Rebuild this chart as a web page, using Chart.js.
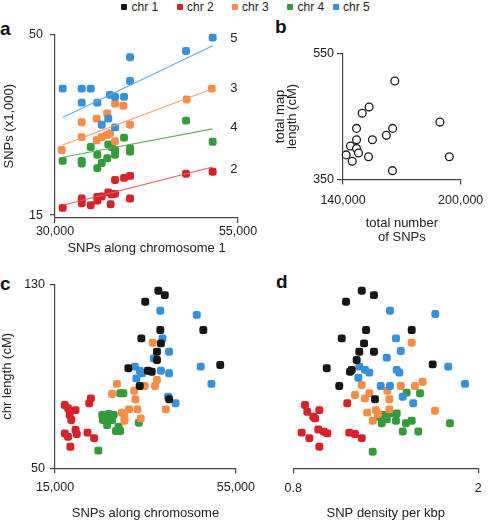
<!DOCTYPE html>
<html><head><meta charset="utf-8">
<script src="https://cdn.jsdelivr.net/npm/chart.js@4/dist/chart.umd.min.js"></script>
<style>
html,body{margin:0;padding:0;background:#fff;overflow:hidden;}
body{width:492px;height:520px;position:relative;font-family:"Liberation Sans",Arial,sans-serif;color:#222;}
canvas{position:absolute;}
.lbl{position:absolute;font-weight:bold;font-size:19px;line-height:19px;color:#111;}
.leg{position:absolute;top:0;font-size:12px;line-height:14px;color:#222;white-space:nowrap;}
.sw{position:absolute;width:6px;height:6px;border-radius:1px;top:4px;}
</style></head><body>
<script>
// ---------- legend ----------
const chrNames = ['chr 1','chr 2','chr 3','chr 4','chr 5'];
const chrColors = ['#161616','#d62229','#f58c48','#349b3c','#3791d8'];
const lineColors = ['#161616','#e05a60','#f6a06c','#5fae5f','#62aae2'];

// ---------- panel a: SNPs (x1,000) vs SNPs along chromosome 1 ----------
const aXTicks = [30000, 55000], aXLabels = ['30,000','55,000'];
const aYTicks = [15, 50], aYLabels = ['15','50'];
const aChr2 = [[31050,16.4],[33650,18.2],[33650,17.3],[34880,16.9],[35780,17.8],[35780,18.5],[36380,18.6],[37280,19.4],[37740,19.0],[38200,19.1],[37600,17.1],[40250,18.2],[38200,21.8],[39430,22.2],[40250,22.6],[47900,23.0],[51540,23.4]];
const aChr3 = [[30920,27.6],[33650,30.1],[35700,29.5],[36380,30.1],[37060,30.5],[37510,30.8],[38200,29.3],[33650,33.0],[35700,33.7],[37140,34.7],[38200,36.6],[39330,36.2],[40250,32.5],[47990,37.4],[51410,39.5]];
const aChr4 = [[51540,29.2],[47900,33.3],[31050,25.5],[33650,25.5],[33650,25.0],[34880,28.2],[35780,26.7],[35780,24.1],[36380,25.1],[37140,26.0],[37280,28.7],[37740,28.2],[38200,27.6],[38200,26.7],[39430,30.0],[40250,27.9],[40250,27.3]];
const aChr5 = [[31050,39.5],[33650,39.5],[34880,39.5],[40250,45.6],[40250,41.0],[37510,38.3],[38200,37.9],[39430,37.9],[33650,36.8],[35780,36.8],[37280,33.7],[36380,32.5],[38200,32.0],[47900,46.8],[51540,49.4]];
// fitted lines, end points
const aLineX = [31050, 51540];
const aLine2 = [16.9, 24.3];
const aLine3 = [28.6, 39.5];
const aLine4 = [26.2, 31.7];
const aLine5 = [33.9, 47.8];
const aLabelText = ['5','3','4','2'];
const aLabelY = [49.2, 39.6, 32.0, 23.9];
const aLabelX = 53950;

// ---------- panel b: total map length vs total number of SNPs ----------
const bXTicks = [140000, 200000], bXLabels = ['140,000','200,000'];
const bYTicks = [350, 550], bYLabels = ['350','550'];
const bSnps = [166400,153300,149800,146900,165300,162100,146900,155000,143800,146900,147900,141600,144700,153000,165200,189400,194200];
const bLen  = [506,465,455,431,431,420,413,413,403,399,392,389,379,386,364,441,386];

// ---------- panel c: chr length vs SNPs along chromosome ----------
const cXTicks = [15000, 55000], cXLabels = ['15,000','55,000'];
const cYTicks = [50, 130], cYLabels = ['50','130'];
const cChr1 = [[37850,127.2],[39280,125.3],[34960,122.4],[38290,110.1],[47800,110.1],[34090,106.5],[38420,104.3],[37550,100.7],[37550,97.1],[31220,93.5],[35540,92.4],[36400,92.0],[51540,94.9],[33740,85.8],[40230,80.0]];
const cChr2 = [[17160,77.5],[17880,76.1],[19540,75.3],[18240,73.2],[18610,71.0],[22940,80.4],[22570,78.3],[17160,65.2],[17880,63.7],[19540,66.7],[19820,64.9],[18400,59.4],[22200,65.5],[23650,63.1]];
const cChr3 = [[36620,104.6],[37550,88.4],[37120,85.8],[34830,85.8],[28690,86.7],[27610,82.3],[32510,83.7],[32790,80.0],[31370,75.6],[29770,74.2],[30350,72.4],[33230,75.6],[33960,71.7],[30350,70.7],[39500,75.6]];
const cChr4 = [[29420,82.6],[30130,82.6],[26890,73.6],[27970,73.2],[25590,71.0],[26180,71.7],[26530,68.8],[28470,66.2],[29420,66.2],[33530,69.8],[24580,57.7],[27610,71.0],[25450,73.2],[29050,68.1]];
const cChr5 = [[38290,118.5],[46350,116.7],[38780,106.5],[40230,100.7],[36840,97.8],[32660,94.2],[33740,92.4],[34240,91.3],[38420,92.4],[40230,91.3],[33010,89.1],[47220,94.2],[49590,86.7],[40010,81.1],[41660,78.3]];

// ---------- panel d: chr length vs SNP density per kbp ----------
const dXTicks = [0.8, 2], dXLabels = ['0.8','2'];
const dChr1 = [[1.244,127.2],[1.323,125.3],[1.142,122.4],[1.272,110.1],[1.568,110.1],[1.114,106.5],[1.259,104.3],[1.228,100.7],[1.323,100.7],[1.211,97.1],[1.017,93.5],[1.168,92.0],[1.179,92.8],[1.704,95.2],[1.098,85.8],[1.330,80.0]];
const dChr2 = [[0.876,77.5],[0.891,74.6],[0.930,72.4],[0.941,71.7],[0.969,75.3],[0.962,66.9],[0.999,65.9],[1.021,65.2],[0.854,65.5],[0.904,63.1],[0.969,59.4],[1.163,65.5],[1.200,64.9],[1.244,63.1],[1.150,78.3]];
const dChr3 = [[1.568,104.6],[1.244,86.2],[1.200,81.9],[1.293,82.6],[1.265,80.4],[1.410,83.7],[1.423,80.0],[1.497,85.8],[1.589,85.8],[1.639,87.6],[1.280,74.2],[1.336,75.3],[1.351,73.6],[1.423,75.6],[1.315,70.7],[1.719,75.0]];
const dChr4 = [[1.535,82.9],[1.622,82.6],[1.351,72.4],[1.380,73.2],[1.406,71.3],[1.373,69.6],[1.427,73.9],[1.471,73.9],[1.466,70.7],[1.531,69.6],[1.568,70.7],[1.510,66.0],[1.611,66.0],[1.816,69.6],[1.315,57.2]];
const dChr5 = [[1.427,118.5],[1.721,117.1],[1.466,106.5],[1.497,101.0],[1.406,98.1],[1.228,94.2],[1.265,92.8],[1.293,91.6],[1.471,92.8],[1.488,91.6],[1.222,89.4],[1.805,94.2],[1.914,86.7],[1.367,85.8],[1.427,85.8],[1.510,81.1],[1.578,78.3]];

// ---------- helpers ----------
Chart.defaults.font.family = '"Liberation Sans", Arial, sans-serif';
Chart.defaults.color = '#222';
Chart.defaults.animation = false;

function addDiv(cls, text, left, top){
  const d = document.createElement('div');
  d.className = cls; d.textContent = text;
  d.style.left = left + 'px'; d.style.top = top + 'px';
  document.body.appendChild(d); return d;
}
// legend
const legSwatchLeft = [121, 176.5, 231.5, 287, 332.5];
chrNames.forEach((n,i)=>{
  const s = document.createElement('div'); s.className='sw';
  s.style.left = legSwatchLeft[i]+'px'; s.style.background = chrColors[i];
  document.body.appendChild(s);
  addDiv('leg', n, legSwatchLeft[i]+10.5, 0);
});
addDiv('lbl','a',0,19); addDiv('lbl','b',275,17); addDiv('lbl','c',0,274); addDiv('lbl','d',276,272);

function makeCanvas(left, top, w, h){
  const c = document.createElement('canvas');
  c.width = w; c.height = h;
  c.style.left = left+'px'; c.style.top = top+'px';
  c.style.width = w+'px'; c.style.height = h+'px';
  document.body.appendChild(c);
  return c.getContext('2d');
}
function axis(o){
  return {
    type:'linear', position:o.pos, min:o.min, max:o.max, display: o.display !== false,
    grid:{display:true, drawOnChartArea:false, drawTicks:true, tickLength:o.tl, color:'#444', lineWidth:1.2},
    border:{display:true, color:'#444', width:1.2},
    ticks:{padding:o.pad, font:{size:12.5}, color:'#222', maxRotation:0, autoSkip:false,
      callback:(v,i)=>o.labels[i]},
    afterBuildTicks:s=>{ s.ticks = o.vals.map(v=>({value:v})); },
    afterFit:s=>{ if(o.pos==='left') s.width=o.size; else s.height=o.size; },
    title: o.title ? {display:true, text:o.title, color:'#222',
      font:{size:13, lineHeight:o.lh||1.2}, padding:o.tpad} : {display:false}
  };
}
const pts = arr => arr.map(p=>({x:p[0], y:p[1]}));
function sq(arr, i){
  return {data:pts(arr), pointStyle:'rectRounded', pointRadius:4.6, pointHoverRadius:4.6,
    backgroundColor:chrColors[i], borderColor:chrColors[i], borderWidth:0, clip:false};
}
function ln(ys, i){
  return {data:aLineX.map((x,k)=>({x, y:ys[k]})), showLine:true, pointRadius:0,
    borderColor:lineColors[i], borderWidth:1.1, clip:false};
}
const baseOpts = (pad, scales) => ({
  responsive:false, maintainAspectRatio:false, devicePixelRatio:1, animation:false,
  events:[], layout:{padding:pad},
  plugins:{legend:{display:false}, tooltip:{enabled:false}},
  scales
});

// panel a
const lineLabels = {
  id:'lineLabels',
  afterDatasetsDraw(chart){
    const {ctx, scales:{x,y}} = chart;
    ctx.save(); ctx.font = '13px "Liberation Sans", Arial'; ctx.fillStyle='#222';
    ctx.textBaseline='middle'; ctx.textAlign='left';
    aLabelText.forEach((t,i)=>ctx.fillText(t, x.getPixelForValue(aLabelX), y.getPixelForValue(aLabelY[i])));
    ctx.restore();
  }
};
new Chart(makeCanvas(0,20,265,240), {
  type:'scatter',
  data:{datasets:[ln(aLine5,4), ln(aLine3,2), ln(aLine4,3), ln(aLine2,1),
    sq(aChr5,4), sq(aChr3,2), sq(aChr4,3), sq(aChr2,1)]},
  options: baseOpts({left:0, top:10, right:27, bottom:0}, {
    x: axis({pos:'bottom', min:30000, max:55000, vals:aXTicks, labels:aXLabels, tl:5, pad:1.5, size:42,
      title:'SNPs along chromosome 1', tpad:{top:0, bottom:4.2}}),
    y: axis({pos:'left', min:14.43, max:50, vals:aYTicks, labels:aYLabels, tl:5, pad:7, size:55,
      title:'SNPs (x1,000)', tpad:{top:2, bottom:0}})
  }),
  plugins:[lineLabels]
});

// panel b
new Chart(makeCanvas(262,20,230,230), {
  type:'scatter',
  data:{datasets:[{data:bSnps.map((x,i)=>({x, y:bLen[i]})), pointStyle:'circle', pointRadius:3.9,
    backgroundColor:'#fff', borderColor:'#1a1a1a', borderWidth:1.3, clip:false}]},
  options: baseOpts({left:0, top:33.3, right:23.5, bottom:0}, {
    x: axis({pos:'bottom', min:140000, max:200000, vals:bXTicks, labels:bXLabels, tl:5, pad:8.7, size:70.5,
      title:['total number','of SNPs'], lh:14/13, tpad:{top:0, bottom:6}}),
    y: axis({pos:'left', min:350, max:550, vals:bYTicks, labels:bYLabels, tl:6, pad:3, size:81,
      title:['total map','length (cM)'], lh:12.5/13, tpad:{top:11.75, bottom:0}})
  })
});

// panel c
new Chart(makeCanvas(0,270,262,250), {
  type:'scatter',
  data:{datasets:[sq(cChr1,0), sq(cChr5,4), sq(cChr3,2), sq(cChr4,3), sq(cChr2,1)]},
  options: baseOpts({left:0, top:14.3, right:22, bottom:0}, {
    x: axis({pos:'bottom', min:15000, max:55000, vals:cXTicks, labels:cXLabels, tl:5, pad:7, size:51.7,
      title:'SNPs along chromosome', lh:1, tpad:{top:0, bottom:0}}),
    y: axis({pos:'left', min:50, max:130, vals:cYTicks, labels:cYLabels, tl:5, pad:5, size:55,
      title:'chr length (cM)', tpad:{top:0, bottom:0}})
  })
});

// panel d
new Chart(makeCanvas(262,270,230,250), {
  type:'scatter',
  data:{datasets:[sq(dChr1,0), sq(dChr5,4), sq(dChr3,2), sq(dChr4,3), sq(dChr2,1)]},
  options: baseOpts({left:31.3, top:14.3, right:13.7, bottom:0}, {
    x: axis({pos:'bottom', min:0.8, max:2, vals:dXTicks, labels:dXLabels, tl:5, pad:8.2, size:51.7,
      title:'SNP density per kbp', lh:1, tpad:{top:0, bottom:0}}),
    y: {type:'linear', min:50, max:130, display:false}
  })
});
</script>
</body></html>
